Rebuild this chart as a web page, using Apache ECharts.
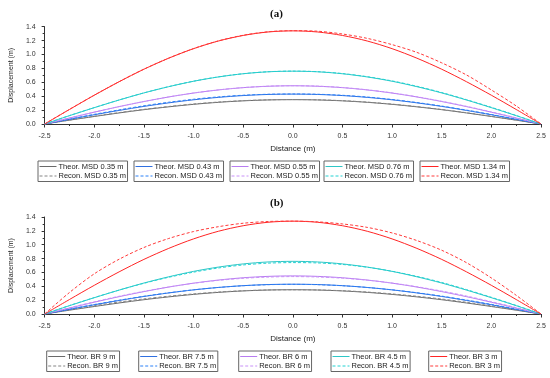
<!DOCTYPE html>
<html>
<head>
<meta charset="utf-8">
<style>html,body{margin:0;padding:0;background:#fff;}#c{width:550px;height:378px;}</style>
<script src="https://cdn.jsdelivr.net/npm/echarts@6/dist/echarts.min.js"></script>
</head>
<body>
<div id="c"></div>
<script>
// ---- data ----
var xs = [-2.5,-2.25,-2.0,-1.75,-1.5,-1.25,-1.0,-0.75,-0.5,-0.25,0,0.25,0.5,0.75,1.0,1.25,1.5,1.75,2.0,2.25,2.5];
var yTicks = ['0.0','0.2','0.4','0.6','0.8','1.0','1.2','1.4'];

var namesA = ['0.35 m','0.43 m','0.55 m','0.76 m','1.34 m'];
var namesB = ['9 m','7.5 m','6 m','4.5 m','3 m'];

var theor035 = [0,0.055,0.108,0.159,0.206,0.247,0.283,0.312,0.333,0.346,0.35,0.346,0.333,0.312,0.283,0.247,0.206,0.159,0.108,0.055,0];
var theor043 = [0,0.067,0.133,0.195,0.253,0.304,0.348,0.383,0.409,0.425,0.43,0.425,0.409,0.383,0.348,0.304,0.253,0.195,0.133,0.067,0];
var theor055 = [0,0.086,0.17,0.25,0.323,0.389,0.445,0.49,0.523,0.543,0.55,0.543,0.523,0.49,0.445,0.389,0.323,0.25,0.17,0.086,0];
var theor076 = [0,0.12,0.235,0.345,0.447,0.537,0.615,0.677,0.723,0.751,0.76,0.751,0.723,0.677,0.615,0.537,0.447,0.345,0.235,0.12,0];
var theor134 = [0,0.209,0.414,0.608,0.788,0.947,1.084,1.194,1.274,1.324,1.34,1.324,1.274,1.194,1.084,0.947,0.788,0.608,0.414,0.209,0];

var reconA035 = [0,0.057,0.112,0.164,0.211,0.252,0.288,0.316,0.336,0.348,0.352,0.348,0.336,0.315,0.286,0.25,0.209,0.162,0.111,0.057,0];
var reconA043 = [0,0.07,0.139,0.203,0.262,0.313,0.356,0.39,0.414,0.428,0.432,0.428,0.413,0.388,0.353,0.309,0.258,0.2,0.137,0.07,0];
var reconA055 = [0,0.087,0.171,0.251,0.324,0.39,0.446,0.491,0.524,0.544,0.551,0.545,0.525,0.492,0.448,0.392,0.327,0.254,0.174,0.089,0];
var reconA076 = [0,0.121,0.236,0.346,0.448,0.538,0.616,0.678,0.724,0.752,0.761,0.753,0.726,0.681,0.62,0.543,0.453,0.35,0.24,0.123,0];
var reconA134 = [0,0.21,0.415,0.609,0.789,0.948,1.085,1.196,1.277,1.327,1.343,1.335,1.295,1.232,1.142,1.03,0.88,0.705,0.49,0.26,0];

var reconB9  = [0,0.062,0.12,0.172,0.218,0.257,0.29,0.317,0.336,0.347,0.35,0.347,0.336,0.317,0.29,0.256,0.216,0.169,0.117,0.06,0];
var reconB75 = [0,0.07,0.137,0.199,0.256,0.306,0.349,0.383,0.408,0.423,0.428,0.423,0.408,0.383,0.349,0.307,0.258,0.201,0.139,0.071,0];
var reconB6  = [0,0.09,0.176,0.256,0.327,0.39,0.443,0.485,0.515,0.533,0.54,0.534,0.517,0.488,0.447,0.394,0.331,0.259,0.178,0.092,0];
var reconB45 = [0,0.122,0.237,0.345,0.443,0.53,0.604,0.664,0.708,0.734,0.742,0.737,0.715,0.675,0.617,0.543,0.455,0.352,0.241,0.124,0];
var reconB3  = [0,0.31,0.58,0.79,0.96,1.09,1.19,1.26,1.31,1.335,1.34,1.33,1.30,1.25,1.17,1.06,0.92,0.74,0.52,0.27,0];

var theorSet = [theor035, theor043, theor055, theor076, theor134];
var reconSetA = [reconA035, reconA043, reconA055, reconA076, reconA134];
var reconSetB = [reconB9, reconB75, reconB6, reconB45, reconB3];

// ---- styles ----
var solidColors = ['#6a6a6a','#2f6fe0','#b77cf0','#2ec6c6','#ff2424'];
var dashColors  = ['#858585','#2a80f8','#c890f8','#22d2d2','#ff3a3a'];
var FONT = 'Liberation Sans, Arial, sans-serif';
var legendLeftA = [38,134,230,324,420];
var legendLeftB = [46.7,138.7,238.7,331,428.7];

function pairs(ys){ return xs.map(function(x,i){ return [x, ys[i]]; }); }

var grids = [
  {left:31, right:9, top:26.7, height:97.3},
  {left:31, right:9, top:217, height:97}
];

function xAxisCfg(gi){
  return {
    gridIndex:gi, type:'value', min:-2.5, max:2.5, interval:0.5,
    name:'Distance (m)', nameLocation:'middle', nameGap:21,
    nameTextStyle:{fontSize:8, color:'#222', fontFamily:FONT},
    axisLine:{show:true, onZero:false, lineStyle:{color:'#333', width:1}},
    axisTick:{show:true, inside:false, length:3.5, lineStyle:{color:'#333'}},
    minorTick:{show:true, splitNumber:2, length:2, lineStyle:{color:'#333'}},
    axisLabel:{fontSize:7, color:'#333', fontFamily:FONT, margin:9,
      formatter:function(v){ return v.toFixed(1); }},
    splitLine:{show:false}
  };
}
function yAxisCfg(gi){
  return {
    gridIndex:gi, type:'value', min:0, max:1.4, interval:0.2,
    name:'Displacement (m)', nameLocation:'middle', nameGap:25, nameRotate:90,
    nameTextStyle:{fontSize:7, color:'#222', fontFamily:FONT},
    axisLine:{show:true, onZero:false, lineStyle:{color:'#333', width:1}},
    axisTick:{show:true, inside:false, length:3, lineStyle:{color:'#333'}},
    minorTick:{show:true, splitNumber:2, length:2, lineStyle:{color:'#333'}},
    axisLabel:{fontSize:7, color:'#333', fontFamily:FONT, margin:9,
      formatter:function(v){ return yTicks[Math.round(v/0.2)]; }},
    splitLine:{show:false}
  };
}

var series = [];
var legends = [];
function addPanel(gi, prefix, names, reconSet, lefts, top){
  for (var i=0;i<5;i++){
    var tn = 'Theor. ' + prefix + ' ' + names[i];
    var rn = 'Recon. ' + prefix + ' ' + names[i];
    series.push({name:tn, type:'line', xAxisIndex:gi, yAxisIndex:gi, data:pairs(theorSet[i]),
      smooth:0.3, symbol:'none', showSymbol:false, silent:true,
      lineStyle:{color:solidColors[i], width:1, type:'solid'}, itemStyle:{color:solidColors[i]}});
    series.push({name:rn, type:'line', xAxisIndex:gi, yAxisIndex:gi, data:pairs(reconSet[i]),
      smooth:0.3, symbol:'none', showSymbol:false, silent:true,
      lineStyle:{color:dashColors[i], width:1, type:[3,2]}, itemStyle:{color:dashColors[i]}});
    legends.push({
      orient:'vertical', left:lefts[i], top:top, data:[tn, rn],
      itemWidth:17, itemHeight:8, itemGap:1.5, padding:[1.5,1.5,1.5,1],
      borderColor:'#666', borderWidth:1, selectedMode:false,
      itemStyle:{opacity:0},
      lineStyle:{width:1},
      textStyle:{fontSize:7.5, color:'#222', fontFamily:FONT, padding:[0,0,0,-3]}
    });
  }
}
addPanel(0, 'MSD', namesA, reconSetA, legendLeftA, 161);
addPanel(1, 'BR', namesB, reconSetB, legendLeftB, 351);

function titleCfg(letter, top){
  return {text:'{p|(}{b|' + letter + '}{p|)}', left:265, top:top,
    textStyle:{rich:{
      p:{fontSize:11, fontFamily:'Liberation Serif, serif', color:'#111'},
      b:{fontSize:11, fontWeight:'bold', fontFamily:'Liberation Serif, serif', color:'#111'}
    }}};
}

var chart = echarts.init(document.getElementById('c'), null, {renderer:'canvas'});
chart.setOption({
  animation:false,
  backgroundColor:'#fff',
  title:[titleCfg('a', 4), titleCfg('b', 193)],
  grid:grids,
  xAxis:[xAxisCfg(0), xAxisCfg(1)],
  yAxis:[yAxisCfg(0), yAxisCfg(1)],
  legend:legends,
  series:series
});
</script>
</body>
</html>
